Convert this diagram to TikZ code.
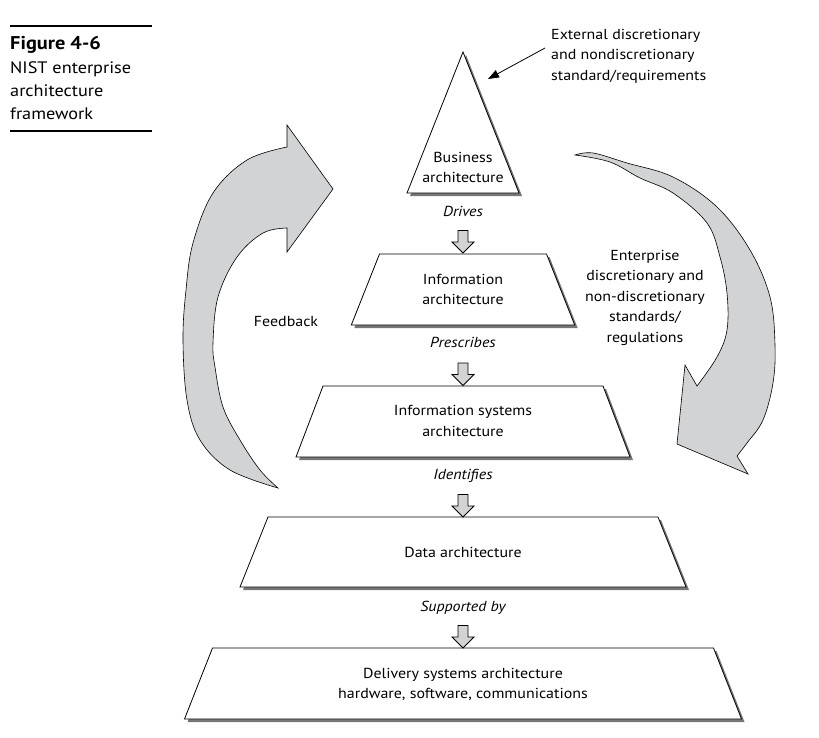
\documentclass[tikz,border=0pt]{standalone}
\usepackage{fontspec}
\setmainfont{PT Sans}[FakeStretch=1.1]
\usetikzlibrary{arrows.meta,calc}
\definecolor{arrgray}{RGB}{210,211,213}
\definecolor{shadowgray}{RGB}{118,118,118}
\tikzset{
  txt/.style={font=\fontsize{14.5}{20.5}\selectfont, align=center, inner sep=0pt},
  lbl/.style={font=\fontsize{14.5}{20.5}\selectfont\itshape, inner sep=0pt, anchor=base},
  captxt/.style={font=\fontsize{16.6}{22}\selectfont, inner sep=0pt, anchor=base west},
  shapebox/.style={draw=black, fill=white, line width=0.8pt, line join=miter},
  shadowbox/.style={fill=shadowgray, draw=none},
  bigarrow/.style={draw=black, fill=arrgray, line width=0.6pt, line join=miter},
  blockarr/.style={draw=black, fill=arrgray, line width=0.8pt, line join=miter},
  downarr/.pic={\path[blockarr] (-5,-22.5) -- (5,-22.5) -- (5,-11) -- (11,-11) -- (0,0) -- (-11,-11) -- (-5,-11) -- cycle;}
}
\newcommand\tzTrap[4]{%
  \fill[shadowbox, shift={(3,3)}] (463-#2,#1) -- (463+#2,#1) -- (463+#4,#3) -- (463-#4,#3) -- cycle;
  \draw[shapebox] (463-#2,#1) -- (463+#2,#1) -- (463+#4,#3) -- (463-#4,#3) -- cycle;
}
\begin{document}
\begin{tikzpicture}[x=1pt,y=-1pt]
\useasboundingbox (0,0) rectangle (819,737);

% caption
\draw[line width=1.3pt] (10,26) -- (152,26);
\draw[line width=1.3pt] (10,131) -- (152,131);
\node[captxt, font=\fontsize{18.5}{22}\selectfont\bfseries] (figno) at (10,49.5) {Figure 4-6};
\node[captxt] (cap1) at (10,73.5) {NIST enterprise};
\node[captxt] (cap2) at (10,96) {architecture};
\node[captxt] (cap3) at (10,119) {framework};

% big curved arrows
\draw[bigarrow] plot[smooth, tension=0.6] coordinates {(278,488) (230,470) (200,440) (187,400) (183,340) (186,290) (193,243) (213,193) (247,160) (287,147)}
  -- (287,125) -- (333,189) -- (287,252) -- (287,228)
  -- plot[smooth, tension=0.6] coordinates {(287,228) (263,233) (237,257) (218,297) (213,343) (215,367) (223,407) (240,440) (260,470) (278,488)} -- cycle;
\draw[bigarrow] plot[smooth, tension=0.6] coordinates {(575,155) (593,153) (627,163) (673,177) (717,207) (750,250) (770,297) (775,345) (773,383) (763,420) (747,443) (737,456)}
  -- (748,474) -- (677,444) -- (685,365)
  -- plot[smooth, tension=0.6] coordinates {(697,386) (717,357) (727,330) (727,293) (720,257) (707,223) (673,193) (640,178) (610,162) (575,155)} -- cycle;

% triangle
\fill[shadowbox, shift={(3,3)}] (463,52) -- (519,193) -- (407,193) -- cycle;
\draw[shapebox] (463,52) -- (519,193) -- (407,193) -- cycle;
\node[txt] (bus) at (463,167.5) {Business\\architecture};

% trapezoids
\tzTrap{254}{83.5}{325}{111.7}
\node[txt] (info) at (463,289.5) {Information\\architecture};
\tzTrap{386}{140}{457}{167}
\node[txt] (infosys) at (463,421) {Information systems\\architecture};
\tzTrap{517}{195}{587}{223}
\node[txt] (data) at (463,552) {Data architecture};
\tzTrap{648}{250.5}{719}{278.5}
\node[txt] (deliv) at (463,684.5) {Delivery systems architecture\\hardware, software, communications};

% relation labels
\node[lbl] (drives) at (463,216) {Drives};
\node[lbl] (prescr) at (463,347) {Prescribes};
\node[lbl] (ident) at (463,479) {Identifies};
\node[lbl] (supp) at (463,611) {Supported by};

% block arrows
\coordinate (t1) at (463,253);
\coordinate (t2) at (463,385.5);
\coordinate (t3) at (463,517);
\coordinate (t4) at (463,648);
\pic at (t1) {downarr};
\pic at (t2) {downarr};
\pic at (t3) {downarr};
\pic at (t4) {downarr};

% side texts
\node[txt] (feedback) at (286,322) {Feedback};
\node[txt] (enterprise) at (645,297.5) {Enterprise\\discretionary and\\non-discretionary\\standards/\\regulations};
\node[txt, align=left, anchor=west] (external) at (551,56) {External discretionary\\and nondiscretionary\\standard/requirements};

% external arrow
\coordinate (extstart) at (545,48);
\coordinate (exttip) at (488,79);
\draw[line width=0.8pt, -{Triangle[length=11pt,width=8pt]}] (extstart) -- (exttip);
\end{tikzpicture}
\end{document}
